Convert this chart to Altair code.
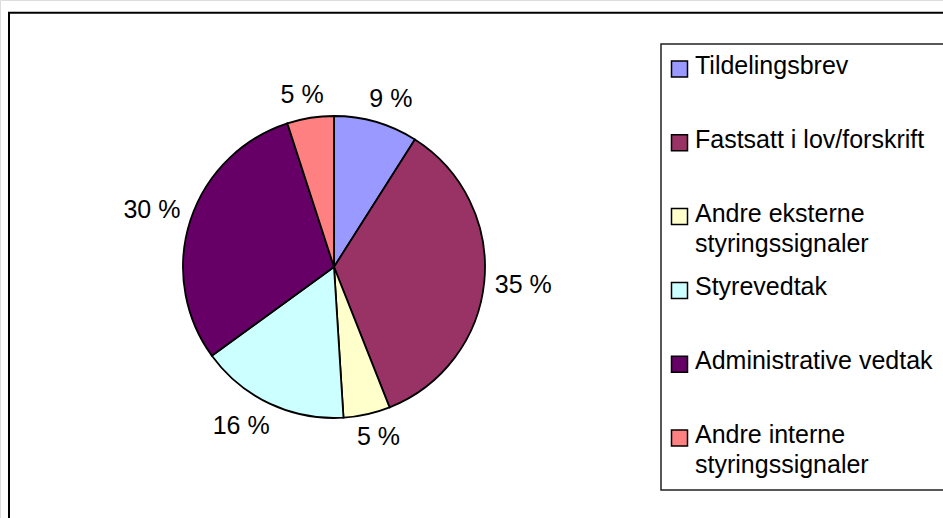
import altair as alt
import pandas as pd

# Share of governing signals by source
categories = [
    "Tildelingsbrev",
    "Fastsatt i lov/forskrift",
    "Andre eksterne styringssignaler",
    "Styrevedtak",
    "Administrative vedtak",
    "Andre interne styringssignaler",
]
legend_labels = [
    "Tildelingsbrev",
    "Fastsatt i lov/forskrift",
    "Andre eksterne\nstyringssignaler",
    "Styrevedtak",
    "Administrative vedtak",
    "Andre interne\nstyringssignaler",
]
percent = [9, 35, 5, 16, 30, 5]
colors = ["#9999FF", "#993366", "#FFFFCC", "#CCFFFF", "#660066", "#FF8080"]

df = pd.DataFrame({
    "kategori": categories,
    "etikett": legend_labels,
    "andel": percent,
    "rekkefolge": list(range(len(categories))),
})

FONT = "Liberation Sans"
CX, CY, R = 334, 267, 151
LABEL_R = 162   # anchor distance of the data labels from the centre
HALF_H = 12     # half height of a label box

color = alt.Color("kategori:N", scale=alt.Scale(domain=categories, range=colors), legend=None)
order = alt.Order("rekkefolge:Q", sort="ascending")
theta = alt.Theta("andel:Q", stack=True)

base = alt.Chart(df)

pie = base.mark_arc(outerRadius=R, stroke="black", strokeWidth=1.8).encode(
    theta=theta, color=color, order=order,
    x=alt.value(CX), y=alt.value(CY),
)

# Data labels sit just outside the rim; the label box is pushed away from the
# pie along the slice's mid angle, like spreadsheet "best fit" labels.
pie_labels = base.transform_window(
    kum="sum(andel)", sort=[alt.SortField("rekkefolge")]
).transform_joinaggregate(
    total="sum(andel)"
).transform_calculate(
    tekst="datum.andel + ' %'",
    vinkel="2 * PI * (datum.kum - datum.andel / 2) / datum.total",
).transform_calculate(
    lx=f"{CX} + {LABEL_R} * sin(datum.vinkel) + clamp(2 * sin(datum.vinkel), -1, 1) * 7 * length(datum.tekst)",
    ly=f"{CY} - {LABEL_R} * cos(datum.vinkel) - clamp(2 * cos(datum.vinkel), -1, 1) * {HALF_H}",
).mark_text(font=FONT, fontSize=25, color="black",
            align="center", baseline="middle").encode(
    x=alt.X("lx:Q", scale=None),
    y=alt.Y("ly:Q", scale=None),
    text="tekst:N",
)

# Frames: outer chart border and legend box
one = alt.Chart(pd.DataFrame({"k": [0]}))
outer = one.mark_rect(fillOpacity=0, stroke="black", strokeWidth=2).encode(
    x=alt.value(9), x2=alt.value(1100), y=alt.value(12.8), y2=alt.value(700)
)
legend_box = one.mark_rect(fill="white", stroke="#222222", strokeWidth=1.5).encode(
    x=alt.value(661), x2=alt.value(1100), y=alt.value(44), y2=alt.value(490)
)

ypos = alt.Y("kategori:N",
             scale=alt.Scale(domain=categories, range=[69, 438], type="point", padding=0),
             axis=None)

legend_symbols = base.mark_square(size=256, stroke="black", strokeWidth=1.5, opacity=1).encode(
    y=ypos, x=alt.value(679.5), color=color, fill=color,
)
legend_text = base.transform_calculate(
    linjer="split(datum.etikett, '\\n')"
).mark_text(font=FONT, fontSize=25, color="black", align="left",
            baseline="alphabetic", lineHeight=30, dy=5).encode(
    y=ypos, x=alt.value(695), text="linjer:N",
)

chart = alt.layer(
    outer, pie, pie_labels, legend_box, legend_symbols, legend_text
).resolve_scale(y="independent").properties(
    width=943, height=518, padding=0, autosize=alt.AutoSizeParams(type="none"),
).configure_view(stroke=None).configure(background="white")

chart.save("out.html", embed_options={"renderer": "svg", "actions": False})
